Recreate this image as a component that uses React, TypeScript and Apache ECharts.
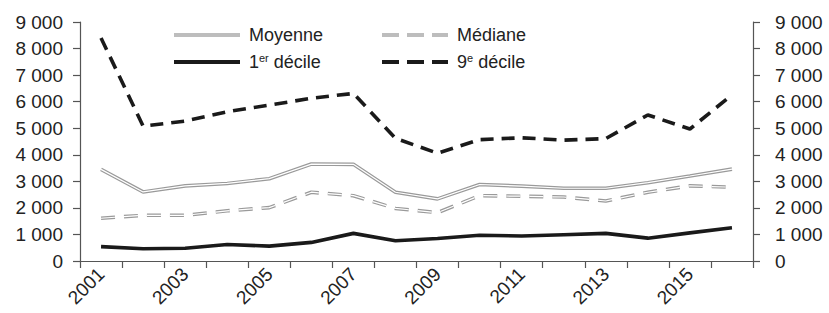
import React, { useEffect, useRef } from "react";
import * as echarts from "echarts";

const years = ["2001","2002","2003","2004","2005","2006","2007","2008","2009","2010","2011","2012","2013","2014","2015","2016"];
const moyenne = [3450, 2600, 2830, 2920, 3100, 3650, 3640, 2590, 2340, 2880, 2820, 2740, 2740, 2950, 3200, 3460];
const mediane = [1610, 1720, 1720, 1890, 2010, 2590, 2460, 1980, 1820, 2460, 2440, 2410, 2260, 2590, 2830, 2780];
const decile1 = [540, 460, 480, 620, 560, 700, 1040, 760, 850, 970, 940, 990, 1040, 860, 1060, 1250];
const decile9 = [8400, 5080, 5270, 5620, 5870, 6130, 6310, 4620, 4060, 4570, 4640, 4550, 4610, 5500, 4970, 6260];
const yTicks = [0, 1000, 2000, 3000, 4000, 5000, 6000, 7000, 8000, 9000];

const FONT = "'Liberation Sans', Arial, sans-serif";
const TXT = "#222";
const AX = "#555";

const fmtNum = (v: number) => (v >= 1000 ? String(v).replace(/(\d)(\d{3})$/, "$1 $2") : String(v));

export default function App() {
  const ref = useRef<HTMLDivElement>(null);
  useEffect(() => {
    document.body.style.margin = "0";
    if (!ref.current) return;
    const chart = echarts.init(ref.current, null, { renderer: "svg" });
    const yAxisBase = (pos: "left" | "right") => ({
      type: "value" as const,
      position: pos,
      min: yTicks[0],
      max: yTicks[yTicks.length - 1],
      interval: 1000,
      splitLine: { show: false },
      axisLine: { show: true, lineStyle: { color: AX, width: 1.2 } },
      axisTick: { show: true, length: 7, lineStyle: { color: AX, width: 1.2 } },
      axisLabel: {
        fontSize: 19,
        fontFamily: FONT,
        color: TXT,
        margin: pos === "left" ? 17 : 22,
        formatter: (v: number) => fmtNum(v),
      },
    });
    const legendBase = {
      orient: "vertical" as const,
      top: 25,
      padding: 0,
      itemWidth: 66,
      itemHeight: 14,
      itemGap: 7,
      itemStyle: { opacity: 0 },
      lineStyle: { width: 4 },
      textStyle: {
        fontSize: 18,
        lineHeight: 20,
        fontFamily: FONT,
        color: TXT,
        padding: [0, 0, 0, 4],
        rich: {
          sup: { fontSize: 11, fontFamily: FONT, color: TXT, verticalAlign: "top" },
        },
      },
      formatter: (name: string) => {
        if (name === "1er décile") return "1{sup|er} décile";
        if (name === "9e décile") return "9{sup|e} décile";
        return name;
      },
    };
    chart.setOption({
      animation: false,
      grid: { left: 80, right: 76, top: 22, bottom: 52 },
      legend: [
        {
          ...legendBase,
          left: 172,
          data: [
            { name: "Moyenne", lineStyle: { color: "#bdbdbd", width: 4 } },
            { name: "1er décile", lineStyle: { color: "#1a1a1a", width: 4 } },
          ],
        },
        {
          ...legendBase,
          left: 380,
          data: [
            { name: "Médiane", lineStyle: { color: "#bdbdbd", width: 4, type: [17, 8] } },
            { name: "9e décile", lineStyle: { color: "#1a1a1a", width: 4, type: [17, 8] } },
          ],
        },
      ],
      xAxis: {
        type: "category",
        data: years,
        boundaryGap: true,
        axisLine: { show: true, lineStyle: { color: AX, width: 1.2 } },
        axisTick: { show: true, interval: 0, length: 7, lineStyle: { color: AX, width: 1.2 } },
        axisLabel: {
          interval: 1,
          rotate: 45,
          fontSize: 19,
          fontFamily: FONT,
          color: TXT,
          margin: 10,
        },
      },
      yAxis: [yAxisBase("left"), yAxisBase("right")],
      series: [
        {
          name: "Moyenne",
          type: "line",
          data: moyenne,
          symbol: "none",
          lineStyle: { color: "#9a9a9a", width: 3.6 },
          itemStyle: { color: "#b5b5b5" },
        },
        {
          name: "moy-inner",
          type: "line",
          data: moyenne,
          symbol: "none",
          silent: true,
          lineStyle: { color: "#ffffff", width: 1.2 },
        },
        {
          name: "Médiane",
          type: "line",
          data: mediane,
          symbol: "none",
          lineStyle: { color: "#9a9a9a", width: 3.6, type: [14, 9] },
          itemStyle: { color: "#b5b5b5" },
        },
        {
          name: "med-inner",
          type: "line",
          data: mediane,
          symbol: "none",
          silent: true,
          lineStyle: { color: "#ffffff", width: 1.2, type: [14, 9] },
        },
        {
          name: "1er décile",
          type: "line",
          data: decile1,
          symbol: "none",
          lineStyle: { color: "#1a1a1a", width: 3.6 },
          itemStyle: { color: "#1a1a1a" },
        },
        {
          name: "9e décile",
          type: "line",
          data: decile9,
          symbol: "none",
          lineStyle: { color: "#1a1a1a", width: 3.6, type: [13, 8] },
          itemStyle: { color: "#1a1a1a" },
        },
      ],
    });
    return () => chart.dispose();
  }, []);
  return <div ref={ref} style={{ width: 829, height: 313 }} />;
}
